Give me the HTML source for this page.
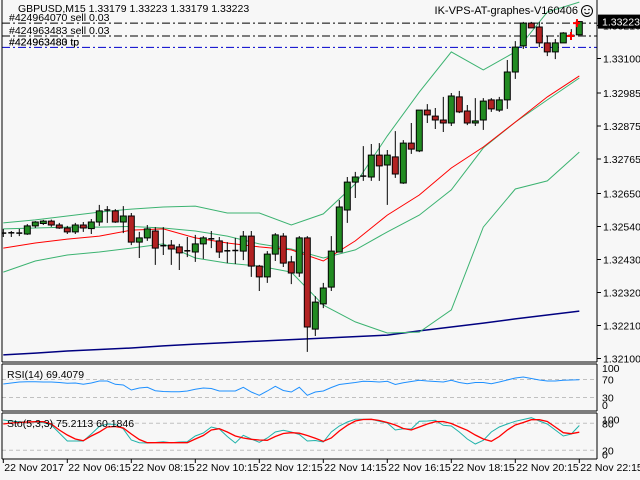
<!DOCTYPE html>
<html><head><meta charset="utf-8"><style>
html,body{margin:0;padding:0;background:#f7f7f7;}
svg{display:block;font-family:"Liberation Sans",sans-serif;}
</style></head><body>
<svg id="chart" width="640" height="480" viewBox="0 0 640 480" xmlns="http://www.w3.org/2000/svg">
<rect x="0" y="0" width="640" height="480" fill="#f7f7f7"/>
<g id="main"></g>
<g id="rsi"></g>
<g id="sto"></g>
<g id="axes"></g>
</svg>
<script>
const opens=[1.32518,1.32518,1.32515,1.32515,1.32542,1.32550,1.32558,1.32545,1.32535,1.32522,1.32545,1.32533,1.32555,1.32592,1.32592,1.32555,1.32575,1.32488,1.32502,1.32525,1.32475,1.32478,1.32472,1.32458,1.32455,1.32482,1.32497,1.32492,1.32458,1.32458,1.32458,1.32508,1.32408,1.32372,1.32448,1.32508,1.32422,1.32385,1.32502,1.32198,1.32282,1.32338,1.32455,1.32595,1.32688,1.32705,1.32705,1.32778,1.32745,1.32772,1.32685,1.32818,1.32792,1.32928,1.32908,1.32895,1.32885,1.32972,1.32925,1.32885,1.32895,1.32962,1.32928,1.32962,1.33055,1.33142,1.33218,1.33205,1.33152,1.33122,1.33152,1.33178,1.33179];
const highs=[1.32532,1.32525,1.32532,1.32548,1.32558,1.32562,1.32563,1.32552,1.32542,1.32552,1.32555,1.32565,1.32612,1.32608,1.32598,1.32608,1.32585,1.32522,1.32545,1.32538,1.32538,1.32495,1.32482,1.32505,1.32512,1.32508,1.32525,1.32505,1.32488,1.32502,1.32525,1.32525,1.32412,1.32458,1.32518,1.32518,1.32442,1.32508,1.32508,1.32308,1.32352,1.32508,1.32628,1.32705,1.32722,1.32808,1.32815,1.32818,1.32795,1.32858,1.32828,1.32885,1.32802,1.32948,1.32935,1.32972,1.32985,1.32992,1.32945,1.32968,1.32968,1.32968,1.32972,1.33095,1.33158,1.33222,1.33222,1.33222,1.33175,1.33165,1.33188,1.33198,1.33223];
const lows=[1.32505,1.32505,1.32508,1.32512,1.32535,1.32545,1.32539,1.32532,1.32515,1.32515,1.32522,1.32515,1.32542,1.32552,1.32552,1.32518,1.32478,1.32435,1.32492,1.32412,1.32445,1.32412,1.32395,1.32438,1.32422,1.32432,1.32468,1.32435,1.32418,1.32415,1.32428,1.32372,1.32325,1.32352,1.32425,1.32405,1.32348,1.32372,1.32122,1.32175,1.32268,1.32325,1.32455,1.32552,1.32635,1.32692,1.32692,1.32692,1.32612,1.32702,1.32682,1.32782,1.32788,1.32885,1.32865,1.32855,1.32875,1.32918,1.32878,1.32875,1.32862,1.32922,1.32922,1.32932,1.33032,1.33132,1.33202,1.33138,1.33108,1.33098,1.33152,1.33165,1.33179];
const closes=[1.32518,1.32519,1.32518,1.32542,1.32555,1.32558,1.32545,1.32535,1.32522,1.32545,1.32535,1.32555,1.32592,1.32595,1.32555,1.32575,1.32488,1.32502,1.32532,1.32468,1.32476,1.32465,1.32452,1.32459,1.32482,1.32502,1.32499,1.32455,1.32459,1.32460,1.32508,1.32408,1.32372,1.32448,1.32512,1.32418,1.32385,1.32502,1.32205,1.32288,1.32335,1.32458,1.32605,1.32688,1.32705,1.32708,1.32778,1.32742,1.32778,1.32715,1.32818,1.32798,1.32928,1.32912,1.32895,1.32885,1.32975,1.32922,1.32885,1.32892,1.32958,1.32932,1.32962,1.33055,1.33138,1.33218,1.33202,1.33152,1.33122,1.33152,1.33185,1.33177,1.33223];
// Indicator lines sampled every 4 bars (bars 0,4,...,72)
const bandBars=[0,4,8,12,16,20,24,28,32,36,40,44,48,52,56,60,64,68,72];
const bbUpper=[1.32552,1.32562,1.32575,1.32588,1.32598,1.32605,1.32608,1.32585,1.32585,1.32545,1.32582,1.32682,1.32842,1.32988,1.33122,1.33062,1.33122,1.33255,1.33288];
const bbMiddle=[1.32532,1.32535,1.32538,1.32538,1.32540,1.32535,1.32525,1.32508,1.32482,1.32465,1.32435,1.32462,1.32522,1.32578,1.32662,1.32802,1.32888,1.32962,1.33035];
const bbLower=[1.32388,1.32425,1.32445,1.32455,1.32468,1.32482,1.32435,1.32418,1.32408,1.32388,1.32278,1.32222,1.32185,1.32188,1.32262,1.32538,1.32665,1.32692,1.32788];
const maRed=[1.32468,1.32485,1.32498,1.32508,1.32528,1.32532,1.32502,1.32485,1.32472,1.32462,1.32425,1.32492,1.32578,1.32645,1.32735,1.32805,1.32888,1.32972,1.33042];
const maBlue=[1.32112,1.32118,1.32125,1.32130,1.32135,1.32142,1.32148,1.32153,1.32158,1.32163,1.32168,1.32173,1.32178,1.32192,1.32205,1.32218,1.32232,1.32245,1.32258];
const rsiValues=[60,62.2,64.4,65.1,65.1,64.4,64.4,63.3,61.6,62.2,59.3,62.2,66.7,66.7,59.3,57.8,46.7,51.1,52.7,45.1,43.3,42.9,42.9,44.4,48.2,51.1,50,44.4,44.4,44.4,52.7,42.2,34.9,44.4,54.9,45.6,42.2,52.7,34.9,42.2,44.4,52.2,58.9,61.1,63.3,66,65.6,64.4,66,58.9,62.9,65.6,68.2,66.7,65.6,64.4,68.2,63.3,60.7,63.3,63.3,60.7,64.4,68.9,73.3,75.6,72.2,68.9,66.7,66.7,68.2,68.9,69.4];
const stoMain=[87.3,85.1,83.6,82.9,82.2,81.3,76.2,58.4,40.7,40.7,40.7,56.2,72.9,78.4,77.3,67.3,42.9,36.9,36.2,37.3,39.1,36.9,38.4,39.1,51.8,58.4,71.8,67.3,50.7,36.2,53.3,45.1,37.8,47.3,60.7,64.4,60.7,55.1,40.7,41.8,38.4,60.7,74,82.9,88.9,88.9,88.9,84.4,80.7,65.1,68,67.3,84.4,85.1,86.7,75.5,74,60.7,45.1,34,42.2,60.7,71.8,78.4,84.4,88.4,92.4,85.1,78.4,65.1,51.8,56.2,75.2];
const stoSignal=[78.4,80.7,81.8,82.9,83.6,83.6,78.4,65.1,54,45.1,41.3,51.8,60.7,71.8,72.9,69.6,56.2,44,36.9,36.9,36.9,36.9,36.9,36.9,45.1,52.9,65.1,68,60.7,51.8,47.3,44.4,42.9,42.2,50.7,57.3,59.1,58,52.9,46.7,40,47.3,62.9,75.5,85.1,88.4,88.9,86.2,81.8,76.2,68.4,65.1,71.8,78.4,83.6,84,79.6,71.8,64.4,54,45.1,40,50.7,65.1,76.2,81.8,88,88,84,71.8,59.1,56.9,60.2];
const priceTicks=[1.33210,1.33100,1.32985,1.32875,1.32765,1.32650,1.32540,1.32430,1.32320,1.32210,1.32100];
const timeLabels=["22 Nov 2017","22 Nov 06:15","22 Nov 08:15","22 Nov 10:15","22 Nov 12:15","22 Nov 14:15","22 Nov 16:15","22 Nov 18:15","22 Nov 20:15","22 Nov 22:15"];
const orderPrices=[1.33218,1.33175,1.33137];
const orderColors=["#000","#000","#0000cc"];
const lastPrice=1.33223;

const NS="http://www.w3.org/2000/svg";
function el(tag,attrs,parent){const e=document.createElementNS(NS,tag);for(const k in attrs)e.setAttribute(k,attrs[k]);parent.appendChild(e);return e;}
const xBar=i=>3.3+8*i;
const yP=p=>358.5-(p-1.321)*30000;
const yR=v=>411-v*0.45;
const yS=v=>459.3-v*0.45;
const main=document.getElementById('main'),rsiG=document.getElementById('rsi'),stoG=document.getElementById('sto'),ax=document.getElementById('axes');

// clip for main
const defs=el('defs',{},main);
const cp=el('clipPath',{id:'mc'},defs);el('rect',{x:2,y:0,width:595,height:362},cp);
const mg=el('g',{'clip-path':'url(#mc)'},main);

function line(arr,xs,yf,color,w,parent,name){
  let d='';arr.forEach((v,i)=>{d+=(i?'L':'M')+xs(i).toFixed(1)+' '+yf(v).toFixed(1);});
  const p=el('path',{d:d,fill:'none',stroke:color,'stroke-width':w},parent);
  
  
  return p;
}
const bx=i=>xBar(bandBars[i]);
line(maBlue,bx,yP,'#000080',1.5,mg,'ma-long-line');
line(bbUpper,bx,yP,'#3cb371',1,mg,'bollinger-upper');
line(bbMiddle,bx,yP,'#3cb371',1,mg,'bollinger-middle');
line(bbLower,bx,yP,'#3cb371',1,mg,'bollinger-lower');
line(maRed,bx,yP,'#ff0000',1,mg,'ma-red-line');

// order lines
const orderText=["#424964070 sell 0.03","#424963483 sell 0.03","#424963483 tp"];
orderPrices.forEach((p,i)=>{
  const l=el('line',{x1:2,x2:597,y1:yP(p),y2:yP(p),stroke:orderColors[i],'stroke-width':1,'stroke-dasharray':'8,3,2,3'},mg);
  
  
  const t=el('text',{x:9,y:yP(p)-2,'font-size':10.5,fill:'#000'},main);t.textContent=orderText[i];
  
  
});
const t2=el('text',{x:9,y:yP(orderPrices[2])-2,'font-size':10.5,fill:'#000'},main);t2.textContent="#424963480 tp";



// candles
closes.forEach((c,i)=>{
  const x=xBar(i),o=opens[i];
  const g=el('g',{},mg);
  
  
  el('line',{x1:x,x2:x,y1:yP(highs[i]),y2:yP(lows[i]),stroke:'#000','stroke-width':1},g);
  const top=Math.min(yP(o),yP(c)),h=Math.abs(yP(o)-yP(c));
  if(h<1.5){el('line',{x1:x-3,x2:x+3,y1:yP(c),y2:yP(c),stroke:'#000','stroke-width':1.5},g);}
  else el('rect',{x:x-3,y:top,width:6,height:h,fill:c>=o?'#228b22':'#b22222',stroke:'#000','stroke-width':1},g);
});
// trade arrows
[[571,orderPrices[1]],[577,orderPrices[0]]].forEach(a=>{
  const g=el('g',{},mg);
  
  
  el('path',{d:`M${a[0]-4} ${yP(a[1])}h7M${a[0]} ${yP(a[1])-4}v8`,stroke:'#ff0000','stroke-width':2},g);
});

// title texts
let tt=el('text',{x:18,y:12,'font-size':10.5,fill:'#000'},main);tt.textContent="GBPUSD,M15  1.33179 1.33223 1.33179 1.33223";


tt=el('text',{x:578,y:14,'font-size':11,fill:'#000','text-anchor':'end'},main);tt.textContent="IK-VPS-AT-graphes-V160406";


const sm=el('g',{},main);


el('circle',{cx:587,cy:11,r:5.5,fill:'none',stroke:'#000','stroke-width':1},sm);
el('path',{d:'M584.5 12.5q2.5 2.5 5 0',fill:'none',stroke:'#000','stroke-width':1},sm);
el('circle',{cx:585,cy:9.5,r:0.8,fill:'#000'},sm);el('circle',{cx:589,cy:9.5,r:0.8,fill:'#000'},sm);

// RSI
[70,30].forEach(v=>{const l=el('line',{x1:2,x2:597,y1:yR(v),y2:yR(v),stroke:'#c0c0c0','stroke-dasharray':'4,3'},rsiG);

});
line(rsiValues,xBar,yR,'#1e90ff',1,rsiG,'rsi-line');
tt=el('text',{x:7,y:378,'font-size':10.5,fill:'#000'},rsiG);tt.textContent="RSI(14) 69.4079";


// Stoch
[80,20].forEach(v=>{const l=el('line',{x1:2,x2:597,y1:yS(v),y2:yS(v),stroke:'#c0c0c0','stroke-dasharray':'4,3'},stoG);

});
line(stoMain,xBar,yS,'#20b2aa',1,stoG,'stochastic-main');
line(stoSignal,xBar,yS,'#ff0000',1.3,stoG,'stochastic-signal');
tt=el('text',{x:7,y:427,'font-size':10.5,fill:'#000'},stoG);tt.textContent="Sto(5,3,3) 75.2113 60.1846";



// borders
[[2,0,2,362],[597,0,597,362],[2,362,597,362],[2,364,597,364],[2,411,597,411],[2,364,2,411],[597,364,597,411],[2,413,597,413],[2,459,597,459],[2,413,2,459],[597,413,597,459]].forEach(b=>{
  const l=el('line',{x1:b[0],y1:b[1],x2:b[2],y2:b[3],stroke:'#000','stroke-width':1},ax);
  
  
});
// price axis
priceTicks.forEach(p=>{
  el('line',{x1:597,x2:601,y1:yP(p),y2:yP(p),stroke:'#000'},ax);
  const t=el('text',{x:603,y:yP(p)+4,'font-size':10.5,fill:'#000'},ax);t.textContent=p.toFixed(5);
  
  
});
const pb=el('rect',{x:598,y:yP(lastPrice)-7,width:42,height:14,fill:'#000'},ax);


tt=el('text',{x:602,y:yP(lastPrice)+4,'font-size':10.5,fill:'#fff'},ax);tt.textContent=lastPrice.toFixed(5);


// indicator scales
[["100",yR(100)+6],["70",yR(70)+4],["30",yR(30)+4],["0",yR(0)-2],["100",yS(100)+9],["80",yS(80)+4],["20",yS(20)+4],["0",yS(0)-1]].forEach(a=>{
  const t=el('text',{x:602,y:a[1],'font-size':10.5,fill:'#000'},ax);t.textContent=a[0];
  
  
});
// time axis
timeLabels.forEach((s,k)=>{
  const x=xBar(8*k);
  el('line',{x1:x,x2:x,y1:459,y2:463,stroke:'#000'},ax);
  const t=el('text',{x:x+1,y:471,'font-size':10.5,fill:'#000'},ax);t.textContent=s;
  
  
});
</script>
</body></html>
